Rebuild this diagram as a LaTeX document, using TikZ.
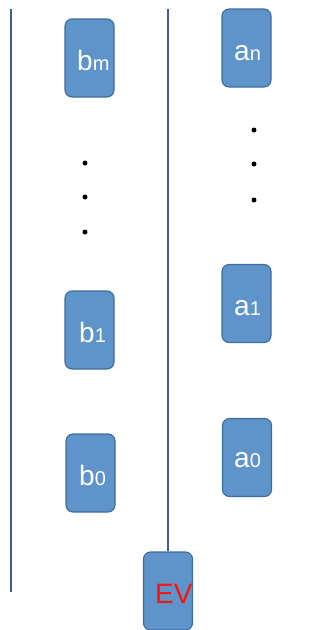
\documentclass[tikz,border=0pt]{standalone}
\usepackage{fontspec}
\setmainfont{Liberation Sans}
\definecolor{boxfill}{RGB}{94,148,201}
\definecolor{boxedge}{RGB}{62,108,156}
\definecolor{rail}{RGB}{60,95,145}
\definecolor{evred}{RGB}{250,20,10}
\newcommand{\bigsym}[1]{{\fontsize{28}{28}\selectfont #1}}
\newcommand{\smallsym}[1]{{\fontsize{20}{20}\selectfont #1}}
\begin{document}
\begin{tikzpicture}[x=1pt,y=-1pt,
  slot/.style={draw=boxedge,line width=1.1pt,fill=boxfill,rounded corners=7pt,
    minimum width=49pt,minimum height=78pt,inner sep=0pt},
  lbl/.style={anchor=base west,text=white,inner sep=0pt},
  railline/.style={draw=rail,line width=1.3pt},
  dot/.style={fill=black,circle,inner sep=0pt,minimum size=5pt}]
\useasboundingbox (0,0) rectangle (329,630);
% rails
\coordinate (ltop) at (11,9);
\coordinate (lbot) at (11,592);
\coordinate (mtop) at (168,9);
\draw[railline] (ltop) -- (lbot);
% left column
\node[slot] (bm) at (89.5,58) {};
\node[lbl] (bmt) at (77,70) {\bigsym{b}\smallsym{m}};
\node[slot] (b1) at (89.5,330) {};
\node[lbl] (b1t) at (79,342) {\bigsym{b}\smallsym{1}};
\node[slot] (b0) at (90.5,473) {};
\node[lbl] (b0t) at (79,485) {\bigsym{b}\smallsym{0}};
% right column
\node[slot] (an) at (246.5,48) {};
\node[lbl] (ant) at (234,60) {\bigsym{a}\smallsym{n}};
\node[slot] (a1) at (246.5,303.5) {};
\node[lbl] (a1t) at (234,315) {\bigsym{a}\smallsym{1}};
\node[slot] (a0) at (247,457.5) {};
\node[lbl] (a0t) at (234,467) {\bigsym{a}\smallsym{0}};
% EV block on the middle rail
\node[slot] (ev) at (168,591) {};
\node[anchor=base west,text=evred,inner sep=0pt] (evt) at (155,603) {\bigsym{EV}};
\draw[railline] (mtop) -- (ev.north);
% ellipsis dots
\node[dot] (ld1) at (85,163) {};
\node[dot] (ld2) at (85,197) {};
\node[dot] (ld3) at (85,232) {};
\node[dot] (rd1) at (254,130) {};
\node[dot] (rd2) at (254,164) {};
\node[dot] (rd3) at (254,200) {};
\end{tikzpicture}
\end{document}
